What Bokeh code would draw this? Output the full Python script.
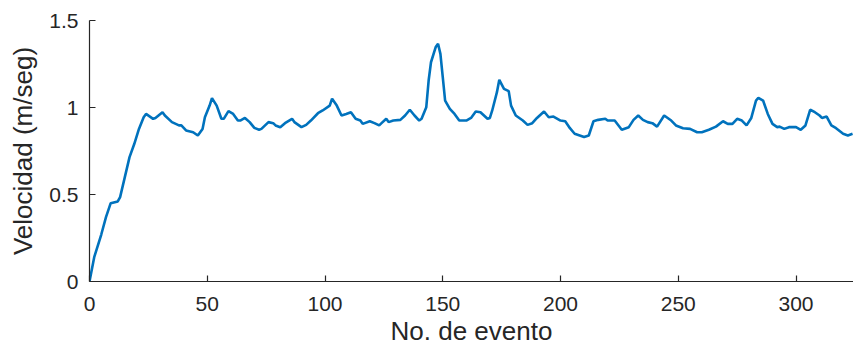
from bokeh.plotting import figure
from bokeh.models import Range1d, FixedTicker
from bokeh.embed import file_html
from bokeh.resources import INLINE

# Data
evento = [0, 2, 5, 7, 9, 12, 13, 15, 17, 19, 21, 23, 24, 27, 28, 31, 32, 35, 38, 39,
          41, 44, 46, 48, 49, 51, 52, 54, 56, 57, 59, 61, 63, 64, 66, 68, 70, 72, 73, 76,
          78, 79, 81, 83, 86, 87, 90, 92, 94, 97, 99, 102, 103, 105, 107, 109, 111, 113, 115, 116,
          119, 121, 123, 124, 126, 127, 129, 132, 134, 136, 138, 140, 141, 143, 144, 145, 147, 148, 149, 150,
          151, 153, 155, 157, 160, 162, 164, 166, 169, 170, 171, 173, 174, 176, 178, 179, 181, 184, 186, 188,
          190, 193, 195, 197, 200, 202, 204, 206, 210, 212, 214, 216, 219, 220, 223, 226, 229, 231, 233, 235,
          237, 239, 241, 244, 247, 249, 252, 255, 258, 260, 263, 266, 269, 271, 273, 275, 277, 279, 281, 283,
          284, 286, 288, 290, 292, 293, 295, 297, 300, 302, 304, 306, 308, 310, 311, 313, 315, 317, 320, 322, 324]
velocidad = [0.00, 0.14, 0.27, 0.37, 0.45, 0.46, 0.485, 0.60, 0.715, 0.79, 0.877, 0.944, 0.963, 0.935, 0.94, 0.973, 0.954, 0.916, 0.897, 0.897,
             0.868, 0.858, 0.839, 0.877, 0.944, 1.011, 1.054, 1.011, 0.935, 0.935, 0.979, 0.963, 0.925, 0.925, 0.94, 0.916, 0.883, 0.872, 0.877, 0.916,
             0.91, 0.897, 0.887, 0.91, 0.935, 0.916, 0.887, 0.90, 0.925, 0.967, 0.983, 1.011, 1.05, 1.011, 0.954, 0.963, 0.973, 0.935, 0.925, 0.906,
             0.921, 0.91, 0.897, 0.91, 0.935, 0.916, 0.925, 0.929, 0.954, 0.987, 0.954, 0.925, 0.935, 1.002, 1.155, 1.26, 1.347, 1.366, 1.308, 1.174,
             1.04, 0.992, 0.963, 0.925, 0.925, 0.94, 0.977, 0.973, 0.935, 0.94, 0.983, 1.088, 1.159, 1.107, 1.094, 1.011, 0.954, 0.925, 0.90, 0.91,
             0.94, 0.977, 0.944, 0.948, 0.925, 0.921, 0.881, 0.849, 0.83, 0.839, 0.921, 0.929, 0.935, 0.925, 0.925, 0.872, 0.887, 0.929, 0.954, 0.929,
             0.916, 0.91, 0.89, 0.954, 0.925, 0.897, 0.881, 0.877, 0.858, 0.858, 0.872, 0.89, 0.921, 0.906, 0.906, 0.935, 0.925, 0.897, 0.94, 1.04,
             1.056, 1.04, 0.963, 0.906, 0.887, 0.89, 0.877, 0.887, 0.887, 0.872, 0.897, 0.987, 0.973, 0.954, 0.94, 0.948, 0.897, 0.881, 0.849, 0.839, 0.849]

x_ticks = [0, 50, 100, 150, 200, 250, 300]
y_ticks = [0, 0.5, 1, 1.5]
y_tick_labels = ["0", "0.5", "1", "1.5"]
x_label = "No. de evento"
y_label = "Velocidad (m/seg)"

FONT = "Liberation Sans"
TXT = "#262626"

p = figure(width=853, height=348, output_backend="svg", toolbar_location=None,
           x_range=Range1d(0, 324.4), y_range=Range1d(0, 1.5),
           min_border_left=89, min_border_right=0, min_border_top=20, min_border_bottom=60)
p.outline_line_color = None
p.grid.visible = False
p.background_fill_color = "white"
p.border_fill_color = "white"

p.line(evento, velocidad, line_color="#0072BD", line_width=2.6)

for ax in (p.xaxis[0], p.yaxis[0]):
    ax.axis_line_color = TXT
    ax.axis_line_width = 1.2
    ax.major_tick_line_color = TXT
    ax.major_tick_line_width = 1.2
    ax.major_tick_in = 6
    ax.major_tick_out = 0
    ax.minor_tick_in = 0
    ax.minor_tick_out = 0
    ax.major_label_text_font = FONT
    ax.major_label_text_font_size = "21px"
    ax.major_label_text_color = TXT
    ax.axis_label_text_font = FONT
    ax.axis_label_text_font_size = "26px"
    ax.axis_label_text_font_style = "normal"
    ax.axis_label_text_color = TXT

p.xaxis.ticker = FixedTicker(ticks=x_ticks)
p.yaxis.ticker = FixedTicker(ticks=y_ticks)
p.yaxis.major_label_overrides = {t: l for t, l in zip(y_ticks, y_tick_labels)}
p.xaxis.axis_label = x_label
p.yaxis.axis_label = y_label
p.xaxis.major_label_standoff = 15
p.yaxis.major_label_standoff = 11
p.xaxis.axis_label_standoff = 2
p.yaxis.axis_label_standoff = 8

open("out.html", "w").write(file_html(p, INLINE))
